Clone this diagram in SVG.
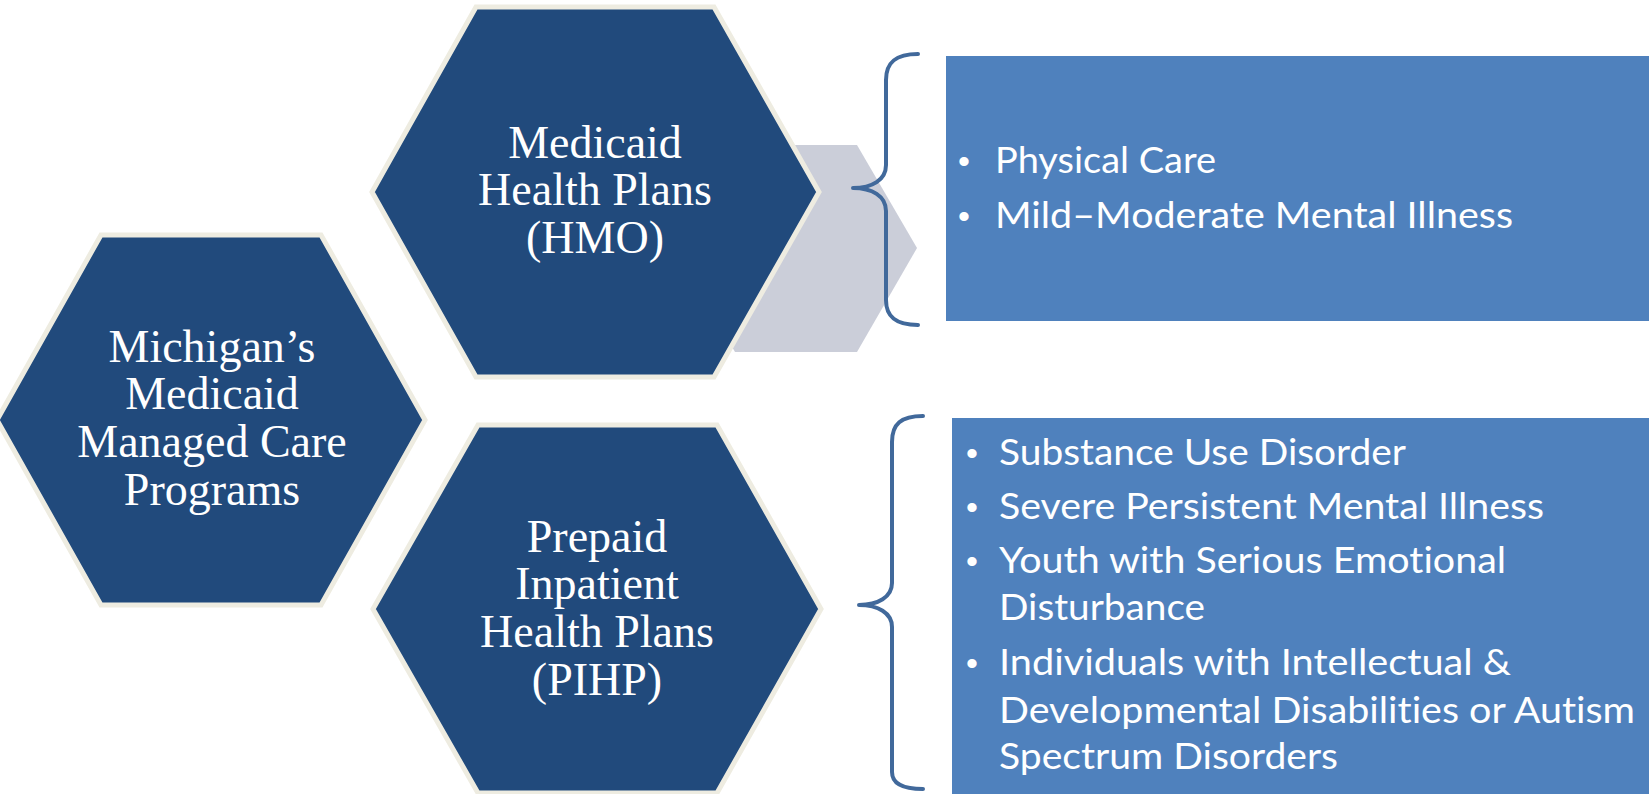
<svg xmlns="http://www.w3.org/2000/svg" width="1649" height="794" viewBox="0 0 1649 794">
<style>
.hex{fill:#214A7C;stroke:#EEECE1;stroke-width:5;stroke-linejoin:miter}
.ht{fill:#FFFFFF;font-family:"Liberation Serif","Times New Roman",serif;font-size:46px;text-anchor:middle}
.box{fill:#4F81BD}
.bt{fill:#FFFFFF;font-family:Lato,"Liberation Sans",sans-serif;font-size:37px;font-variant-ligatures:none;font-feature-settings:"liga" 0,"clig" 0}
.bul{fill:#FFFFFF;font-family:"Liberation Sans",sans-serif;font-size:34px;text-anchor:middle}
.brace{fill:none;stroke:#41699B;stroke-width:4;stroke-linecap:round;stroke-linejoin:round}
.chev{fill:#CBCED9}
</style>
<rect width="1649" height="794" fill="#FFFFFF"/>
<g id="connectors">
<polygon class="chev" points="675,248 735,145 857,145 917,248 857,352 735,352"/>
</g>
<g id="node-hmo">
<polygon class="hex" points="372,192 476,7 714,7 819,192 714,377 476,377"/>
<text class="ht" x="595" y="158">Medicaid</text>
<text class="ht" x="595" y="205">Health Plans</text>
<text class="ht" x="595" y="253">(HMO)</text>
</g>
<g id="node-michigan">
<polygon class="hex" points="-3,420 101,235 321,235 425,420 321,605 101,605"/>
<text class="ht" x="212" y="362">Michigan’s</text>
<text class="ht" x="212" y="409">Medicaid</text>
<text class="ht" x="212" y="457">Managed Care</text>
<text class="ht" x="212" y="505">Programs</text>
</g>
<g id="node-pihp">
<polygon class="hex" points="373,609 478,425 717,425 821,609 717,793 478,793"/>
<text class="ht" x="597" y="552">Prepaid</text>
<text class="ht" x="597" y="599">Inpatient</text>
<text class="ht" x="597" y="647">Health Plans</text>
<text class="ht" x="597" y="695">(PIHP)</text>
</g>
<g id="brace-top">
<path class="brace" d="M918,54 C896,54 886,62 886,80 L886,165 C886,180 872,188 853,188 C872,188 886,196 886,211 L886,300 C886,317 896,325 918,325"/>
</g>
<g id="node-hmo-list">
<rect class="box" x="946" y="56" width="703" height="265"/>
<text class="bul" x="964" y="173">•</text>
<text class="bt" x="995" y="173" textLength="221" lengthAdjust="spacingAndGlyphs">Physical Care</text>
<text class="bul" x="964" y="228">•</text>
<text class="bt" x="995" y="228" textLength="518" lengthAdjust="spacingAndGlyphs">Mild–Moderate Mental Illness</text>
</g>
<g id="brace-bottom">
<path class="brace" d="M923,416 C901,416 892,424 892,442 L892,583 C892,597 878,605 859,605 C878,605 892,613 892,627 L892,772 C892,783 901,789 923,789"/>
</g>
<g id="node-pihp-list">
<rect class="box" x="952" y="418" width="697" height="376"/>
<text class="bul" x="972" y="465">•</text>
<text class="bt" x="999" y="465" textLength="407" lengthAdjust="spacingAndGlyphs">Substance Use Disorder</text>
<text class="bul" x="972" y="519">•</text>
<text class="bt" x="999" y="519" textLength="545" lengthAdjust="spacingAndGlyphs">Severe Persistent Mental Illness</text>
<text class="bul" x="972" y="573">•</text>
<text class="bt" x="999" y="573" textLength="507" lengthAdjust="spacingAndGlyphs">Youth with Serious Emotional</text>
<text class="bt" x="999" y="620" textLength="206" lengthAdjust="spacingAndGlyphs">Disturbance</text>
<text class="bul" x="972" y="675">•</text>
<text class="bt" x="999" y="675" textLength="512" lengthAdjust="spacingAndGlyphs">Individuals with Intellectual &amp;</text>
<text class="bt" x="999" y="723" textLength="636" lengthAdjust="spacingAndGlyphs">Developmental Disabilities or Autism</text>
<text class="bt" x="999" y="769" textLength="339" lengthAdjust="spacingAndGlyphs">Spectrum Disorders</text>
</g>
</svg>
